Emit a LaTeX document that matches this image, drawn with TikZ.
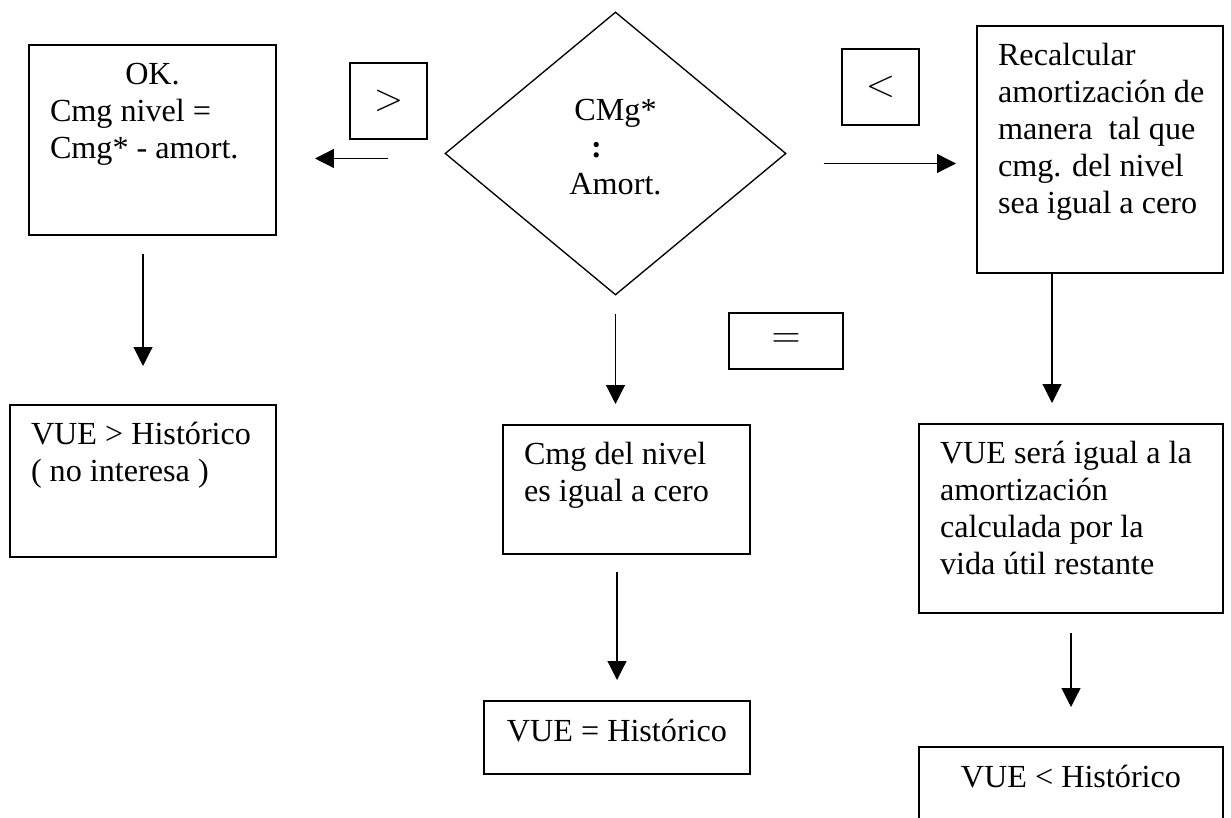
\documentclass[tikz,border=0pt]{standalone}
\usepackage{fontspec}
\setmainfont{Liberation Serif}
\usetikzlibrary{positioning,shapes.geometric,arrows.meta,calc}
\newlength{\pxl}
\setlength{\pxl}{0.373pt}
\newcommand{\texto}[3]{\parbox[c][#2\pxl][t]{#1\pxl}{\raggedright\leftskip=21\pxl\rule{0pt}{40\pxl}#3}}
\newcommand{\textoc}[3]{\parbox[c][#2\pxl][t]{#1\pxl}{\centering\rule{0pt}{40\pxl}#3}}
\tikzset{
  caja/.style={draw, line width=0.75pt, inner sep=0pt, anchor=north west, font=\fontsize{12}{13.8}\selectfont},
  signo/.style={draw, line width=0.75pt, inner sep=0pt, font=\fontsize{15.5}{17}\selectfont},
  rombo/.style={draw, diamond, line width=0.5pt, inner sep=0pt, aspect=1.2, minimum width=341\pxl, minimum height=283\pxl},
  flecha/.style={-{Triangle[length=7pt,width=7pt]}, line width=0.45pt}
}

\begin{document}
\begin{tikzpicture}[x=0.373pt, y=-0.373pt]
    \useasboundingbox (0,0) rectangle (1231,818);
    \node[rombo] (dec) at (615.5,153.5) {};
    \node[align=center, font=\fontsize{12}{13.8}\selectfont] (dectxt) at (615.5,147) {CMg*\\\textbf{:}\rule{38\pxl}{0pt}\\Amort.};
    \node[caja] (ok) at (28,44) {\texto{247}{190}{\makebox[\dimexpr\linewidth-42\pxl\relax]{OK.}\\Cmg nivel =\\Cmg* - amort.}};
    \node[caja] (vuemay) at (9,404) {\texto{266}{152}{VUE > Histórico\\( no interesa )}};
    \node[caja] (cero) at (502,424) {\texto{247}{129}{Cmg del nivel\\es igual a cero}};
    \node[caja] (igual) at (483,700) {\textoc{266}{73}{VUE = Histórico}};
    \node[caja] (rec) at (976,25) {\texto{246}{247}{Recalcular\\amortización de\\manera\ \ tal que\\cmg. del nivel\\sea igual a cero}};
    \node[caja] (sera) at (918,423) {\texto{304}{189}{VUE será igual a la\\amortización\\calculada por la\\vida útil restante}};
    \node[caja] (menor) at (918,746) {\textoc{304}{84}{VUE < Histórico}};
    \node[signo, minimum width=77\pxl, minimum height=76\pxl] (smay) at (388.5,101) {$>$};
    \node[signo, minimum width=77\pxl, minimum height=76\pxl] (smen) at (880.5,87) {$<$};
    \node[signo, minimum width=114\pxl, minimum height=56\pxl] (sig) at (786,341) {\raisebox{-9\pxl}{$=$}};
    \coordinate (izq) at ($(dec.west)+(0,5)$);
    \coordinate (der) at ($(dec.east)+(0,10)$);
    \coordinate (bajarec) at (1052,272);
    \draw[flecha, shorten <=56\pxl, shorten >=38\pxl] (izq) -- (izq -| ok.east);
    \draw[flecha, shorten <=37\pxl, shorten >=20\pxl] (der) -- (der -| rec.west);
    \draw[flecha, shorten <=18\pxl, shorten >=38\pxl] (vuemay.north |- ok.south) -- (vuemay.north);
    \draw[flecha, shorten <=18\pxl, shorten >=20\pxl] (dec.south) -- (dec.south |- cero.north);
    \draw[flecha, shorten <=17\pxl, shorten >=20\pxl] (cero.south -| igual.north) -- (igual.north);
    \draw[flecha, shorten >=20\pxl] (bajarec) -- (bajarec |- sera.north);
    \draw[flecha, shorten <=19\pxl, shorten >=39\pxl] (sera.south) -- (sera.south |- menor.north);
\end{tikzpicture}
\end{document}
